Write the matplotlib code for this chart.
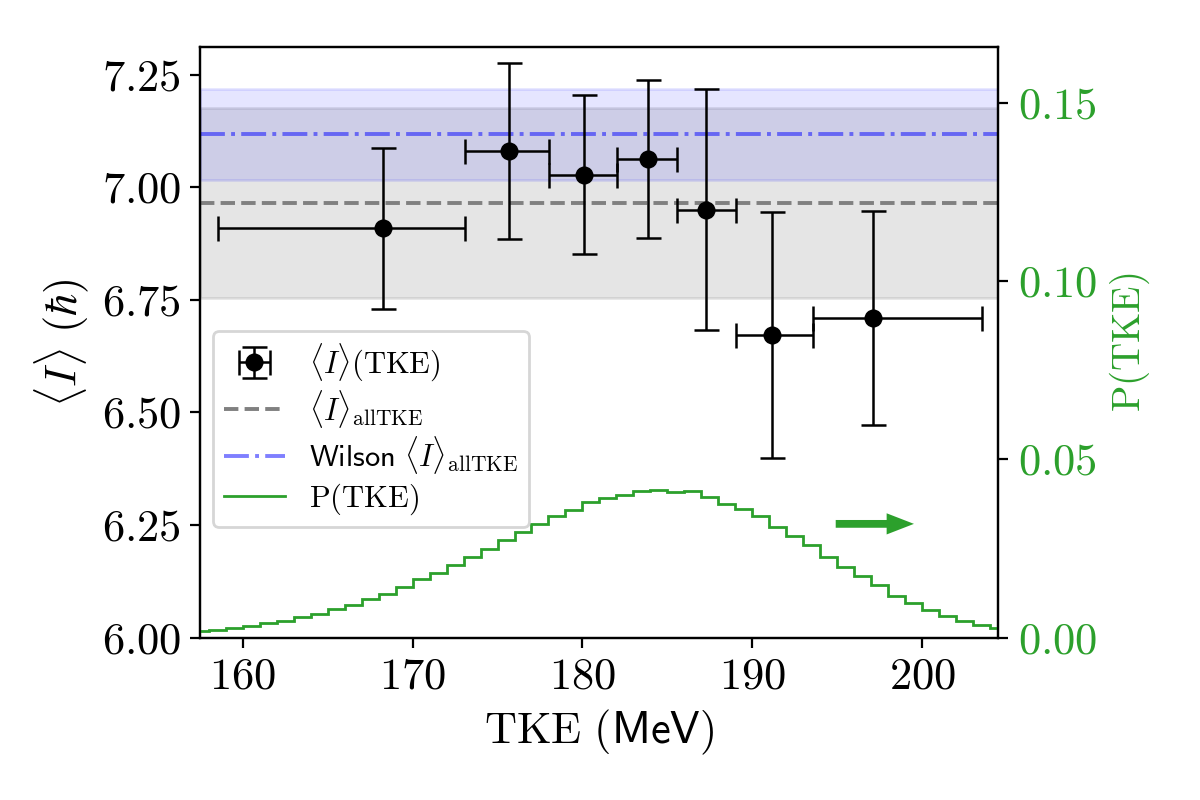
import matplotlib
matplotlib.use("Agg")
import matplotlib.pyplot as plt
import numpy as np

plt.rcParams['mathtext.fontset'] = 'cm'
plt.rcParams['font.family'] = 'serif'
plt.rcParams['font.serif'] = ['cmr10', 'DejaVu Serif']
plt.rcParams['axes.formatter.use_mathtext'] = True

# <I>(TKE) per TKE bin
tke_mean = [168.24, 175.70, 180.11, 183.84, 187.30, 191.15, 197.10]
tke_low = [158.55, 173.08, 178.05, 182.06, 185.58, 189.02, 193.57]
tke_high = [173.08, 178.05, 182.06, 185.58, 189.02, 193.57, 203.56]
spin = [6.909, 7.080, 7.028, 7.063, 6.950, 6.672, 6.710]
spin_err = [0.179, 0.196, 0.177, 0.176, 0.268, 0.273, 0.237]

# averages over all TKE
spin_all = 6.966
spin_all_err = 0.211
wilson_all = 7.118
wilson_all_err = 0.101

# P(TKE) histogram, 1 MeV bins
p_edges = np.arange(157, 206, 1)
p_tke = [0.0018, 0.0021, 0.0026, 0.0032, 0.0041, 0.0046, 0.0058, 0.0066,
         0.0079, 0.0091, 0.0107, 0.0122, 0.0141, 0.0164, 0.0180, 0.0205,
         0.0225, 0.0248, 0.0273, 0.0295, 0.0319, 0.0341, 0.0357, 0.0379,
         0.0391, 0.0400, 0.0411, 0.0414, 0.0408, 0.0411, 0.0394, 0.0375,
         0.0361, 0.0341, 0.0310, 0.0285, 0.0260, 0.0226, 0.0198, 0.0172,
         0.0147, 0.0116, 0.0097, 0.0077, 0.0060, 0.0046, 0.0035, 0.0026]

xlim = (157.5, 204.5)

fig = plt.figure(figsize=(6, 4), dpi=200)
ax = fig.add_axes([0.167, 0.203, 0.665, 0.738])
ax2 = ax.twinx()

xs = np.array(xlim)
ax.fill_between(xs, spin_all - spin_all_err, spin_all + spin_all_err,
                color='gray', alpha=0.2)
ax.fill_between(xs, wilson_all - wilson_all_err, wilson_all + wilson_all_err,
                color='blue', alpha=0.1)
l1, = ax.plot(xs, [spin_all, spin_all], '--', color='gray', lw=1.4,
              label=r'$\langle I\rangle_{\mathrm{allTKE}}$')
l2, = ax.plot(xs, [wilson_all, wilson_all], '-.', color='blue', alpha=0.5, lw=1.4,
              label=r'$\mathsf{Wilson}\ \langle I\rangle_{\mathrm{allTKE}}$')

xerr = [np.array(tke_mean) - np.array(tke_low), np.array(tke_high) - np.array(tke_mean)]
eb = ax.errorbar(tke_mean, spin, yerr=spin_err, xerr=xerr, fmt='o', color='k',
                 ms=5.5, lw=0.9, capsize=4.5, capthick=0.9,
                 label=r'$\langle I\rangle(\mathrm{TKE})$')

st = ax2.stairs(p_tke, p_edges, color='C2', lw=1.0, baseline=None,
                label=r'$\mathrm{P(TKE)}$')
ax2.arrow(195, 0.0319, 3.0, 0, width=0.0014, head_width=0.0048,
          head_length=1.3, color='C2')

ax.set_xlim(xlim)
ax.set_ylim(6.0, 7.311)
ax2.set_ylim(0, 0.1656)
ax.set_xticks([160, 170, 180, 190, 200])
ax.set_yticks([6.0, 6.25, 6.5, 6.75, 7.0, 7.25])
ax2.set_yticks([0, 0.05, 0.10, 0.15])

ax.tick_params(labelsize=16)
ax2.tick_params(labelsize=16, labelcolor='C2')
ax.set_xlabel(r'$\mathrm{TKE}\ (\mathsf{MeV})$', fontsize=16)
ax.set_ylabel(r'$\langle I\rangle\ (\hbar)$', fontsize=16)
ax2.set_ylabel(r'$\mathrm{P(TKE)}$', fontsize=14, color='C2')

ax2.legend([eb, l1, l2, st],
           [eb.get_label(), l1.get_label(), l2.get_label(), st.get_label()],
           loc='lower left', bbox_to_anchor=(0.016, 0.187), borderaxespad=0,
           fontsize=11, labelspacing=0.15, borderpad=0.35)

fig.savefig('out.png', dpi=200)
